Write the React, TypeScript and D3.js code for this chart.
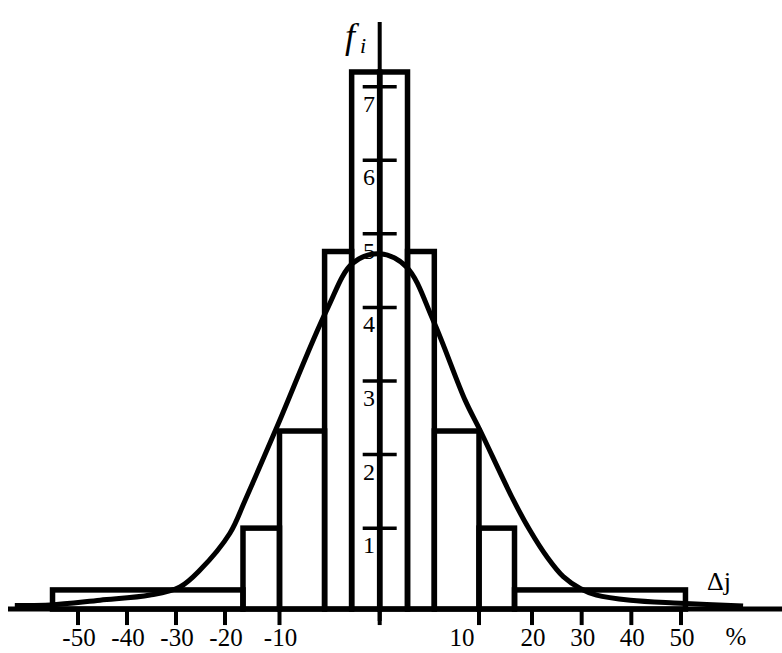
import React from "react";
import * as d3 from "d3";

// Histogram bins: left edge, right edge (Δj, %), frequency f_i
const binLeft = [-55.2, -16.7, -10, -5.5, -2.8, 0, 2.8, 5.5, 10, 16.7];
const binRight = [-16.7, -10, -5.5, -2.8, 0, 2.8, 5.5, 10, 16.7, 50.9];
const binFreq = [0.16, 1.0, 2.32, 4.76, 7.2, 7.2, 4.76, 2.32, 1.0, 0.16];

// Fitted density curve, sampled points (Δj, f)
const curveX = [
  -62.9, -55.7, -45.5, -35.3, -29.2, -25.1, -19.1, -16.3, -10.5, -5.3, -2.7, 0,
  2.7, 5.4, 8.6, 10.2, 16.5, 19.6, 23.0, 26.3, 29.7, 33.0, 39.8, 49.8, 62.5,
];
const curveF = [
  -0.05, -0.045, 0.02, 0.09, 0.2, 0.43, 0.93, 1.38, 2.37, 3.96, 4.6, 4.73,
  4.55, 3.82, 2.74, 2.33, 1.38, 0.97, 0.61, 0.34, 0.18, 0.09, 0.02, -0.02, -0.06,
];

// Axis ticks and labels
const xTicks = [-50, -40, -30, -20, -10, 0, 10, 20, 30, 40, 50];
const xTickLabels = ["-50", "-40", "-30", "-20", "-10", "", "10", "20", "30", "40", "50"];
const yTicks = [1, 2, 3, 4, 5, 6, 7];
const yTickLabels = ["1", "2", "3", "4", "5", "6", "7"];

const W = 782;
const H = 653;
const FONT = "'Liberation Serif', 'Times New Roman', serif";

export default function App() {
  // The Δj axis is stretched around zero: ±10 % takes as much room as 10..50 %
  const x = d3
    .scaleLinear()
    .domain([-50, -20, -10, 0, 10, 20, 50])
    .range([78, 225, 279.5, 379.7, 479, 532, 681]);
  const y = d3.scaleLinear().domain([0, 7]).range([601.7, 86.7]);
  const axisValue = -0.1; // the horizontal axis sits just under f = 0
  const axisY = y(axisValue);
  const x0 = x(0);

  const curvePts = curveX.map((v, i) => [x(v), y(curveF[i])] as [number, number]);
  const line = d3.line().curve(d3.curveCatmullRom.alpha(0.5));

  return (
    <svg
      width={W}
      height={H}
      style={{ position: "absolute", left: 0, top: 0, background: "#fff" }}
      fontFamily={FONT}
    >
      <rect width={W} height={H} fill="#fff" />
      {/* histogram */}
      {binLeft.map((l, i) => (
        <rect
          key={"b" + i}
          x={x(l)}
          y={y(binFreq[i])}
          width={x(binRight[i]) - x(l)}
          height={axisY - y(binFreq[i])}
          fill="none"
          stroke="#000"
          strokeWidth={5.5}
        />
      ))}
      {/* density curve */}
      <path d={line(curvePts) || ""} fill="none" stroke="#000" strokeWidth={5} />
      {/* horizontal axis */}
      <line x1={8} x2={W} y1={axisY} y2={axisY} stroke="#000" strokeWidth={5} />
      {xTicks.map((t, i) => (
        <line
          key={"xt" + i}
          x1={x(t)}
          x2={x(t)}
          y1={axisY}
          y2={axisY + 16}
          stroke="#000"
          strokeWidth={4}
        />
      ))}
      {xTicks.map((t, i) =>
        xTickLabels[i] ? (
          <text
            key={"xl" + i}
            x={x(t) + (t === 10 ? -17 : 1)}
            y={646}
            fontSize={25}
            textAnchor="middle"
          >
            {xTickLabels[i]}
          </text>
        ) : null
      )}
      <text x={736} y={645} fontSize={25} textAnchor="middle">
        %
      </text>
      <text x={707} y={590} fontSize={26}>
        Δj
      </text>
      {/* vertical axis */}
      <line x1={x0} x2={x0} y1={22} y2={axisY + 12} stroke="#000" strokeWidth={4} />
      {yTicks.map((t, i) => (
        <g key={"yt" + i}>
          <line
            x1={x0 - 17}
            x2={x0 + 17}
            y1={y(t)}
            y2={y(t)}
            stroke="#000"
            strokeWidth={3.5}
          />
          <text x={369} y={y(t) + 25} fontSize={24} textAnchor="middle">
            {yTickLabels[i]}
          </text>
        </g>
      ))}
      <text x={345} y={48} fontSize={36} fontStyle="italic">
        f
      </text>
      <text x={360} y={53} fontSize={22} fontStyle="italic">
        i
      </text>
    </svg>
  );
}
